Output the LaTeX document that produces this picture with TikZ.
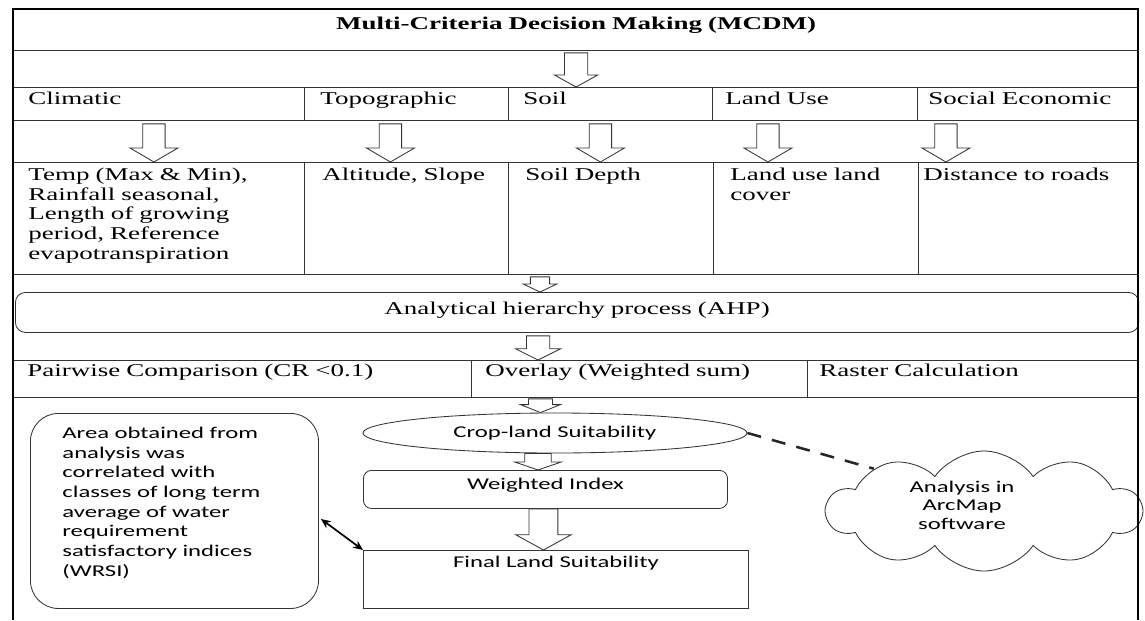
\documentclass[tikz,border=0pt]{standalone}
\usepackage{fontspec}
\setmainfont{Liberation Serif}[FakeStretch=1.5]
\newfontfamily\calibri{Carlito}[FakeStretch=1.5]
\usetikzlibrary{calc,shapes.geometric,shapes.symbols,arrows.meta}
\definecolor{linegray}{HTML}{333333}

% block arrow: start, end (only its y is used), half shaft, half head, head length
\newcommand{\hollowarrow}[5]{%
  \path[hollow] let \p1=(#1), \p2=(#2) in
    (\x1-#3,\y1) -- (\x1-#3,\y2+#5) -- (\x1-#4,\y2+#5) -- (\x1,\y2)
    -- (\x1+#4,\y2+#5) -- (\x1+#3,\y2+#5) -- (\x1+#3,\y1) -- cycle;
}

\begin{document}
\begin{tikzpicture}[x=0.025cm, y=-0.025cm,
            every node/.style={inner sep=0pt},
            serif/.style={font=\fontsize{12.8}{14}\selectfont},
            sans/.style={font=\calibri\fontsize{11.7}{14}\selectfont, execute at begin node={\setlength{\baselineskip}{14pt}}},
            cell/.style={serif, rectangle, draw=linegray, line width=0.6pt, anchor=north west, align=left, inner xsep=0.375cm},
            head cell/.style={cell, text height=0.425cm, text depth=0.4cm},
            detail cell/.style={cell, text height=0.45cm, text depth=2.35cm},
            method cell/.style={cell, text height=0.4cm, text depth=0.525cm},
            round box/.style={sans, rectangle, rounded corners=0.2cm, draw=linegray, line width=0.6pt, anchor=north west, align=center},
            hollow/.style={draw=linegray, line width=0.6pt, fill=white},
            frame/.style={line width=2pt}
    ]
        \useasboundingbox (0,0) rectangle (1145,620);

        % Title
        \node[cell, align=center, inner xsep=0pt, text width=28.125cm, text height=0.5cm, text depth=0.525cm, font=\bfseries\fontsize{12.8}{14}\selectfont] (title) at (13,9) {Multi-Criteria Decision Making (MCDM)};

        % Criteria
        \node[head cell, text width=6.525cm] (climatic) at (13,87) {Climatic};
        \node[head cell, inner xsep=0.4cm, text width=4.3cm] (topographic) at (304,87) {Topographic};
        \node[head cell, text width=4.35cm] (soil) at (508,87) {Soil};
        \node[head cell, inner xsep=0.325cm, text width=4.475cm] (landuse) at (712,87) {Land Use};
        \node[head cell, inner xsep=0.275cm, text width=4.975cm] (socio) at (917,87) {Social Economic};

        % Factors
        \node[detail cell, text width=6.525cm] (climdet) at (13,162) {Temp (Max \& Min),\\ Rainfall seasonal,\\ Length of growing\\ period, Reference\\ evapotranspiration};
        \node[detail cell, inner xsep=0.45cm, text width=4.2cm] (topodet) at (304,162) {Altitude, Slope};
        \node[detail cell, inner xsep=0.425cm, text width=4.275cm] (soildet) at (508,162) {Soil Depth};
        \node[detail cell, inner xsep=0.425cm, text width=4.275cm] (landdet) at (713,162) {Land use land\\ cover};
        \node[detail cell, inner xsep=0.125cm, text width=5.25cm] (sociodet) at (918,162) {Distance to roads};

        % AHP
        \node[cell, rounded corners=0.25cm, align=center, inner xsep=0pt, text width=28.075cm, text height=0.55cm, text depth=0.45cm] (ahp) at (15,292) {Analytical hierarchy process (AHP)};

        \node[method cell, inner xsep=0.35cm, text width=10.75cm] (pairwise) at (13,360) {Pairwise Comparison (CR <0.1)};
        \node[method cell, inner xsep=0.35cm, text width=7.7cm] (overlay) at (471,360) {Overlay (Weighted sum)};
        \node[method cell, inner xsep=0.3cm, text width=7.675cm] (raster) at (807,360) {Raster Calculation};

        % Suitability
        \node[sans, ellipse, draw=linegray, line width=0.6pt, minimum width=9.6cm, minimum height=1cm] (cropland) at (555,433) {Crop-land Suitability};
        \node[round box, text width=9.1cm, text height=0.475cm, text depth=0.475cm] (windex) at (363,470) {Weighted Index};
        \node[sans, rectangle, draw=linegray, line width=0.6pt, anchor=north west, align=center, text width=9.625cm, text height=0.425cm, text depth=1.025cm] (finalls) at (363,550) {Final Land Suitability};

        \node[round box, rounded corners=0.7cm, align=left, inner xsep=0.8cm, text width=5.6cm, text height=0.625cm, text depth=4.25cm] (wrsi) at (30,413) {Area obtained from\\ analysis was\\ correlated with\\ classes of long term\\ average of water\\ requirement\\ satisfactory indices\\ (WRSI)};

        % ArcMap
        \node[cloud, draw=linegray, line width=0.6pt, cloud puffs=10, cloud puff arc=110, cloud ignores aspect, minimum width=7.85cm, minimum height=3.0cm] (arcmap) at (984,511) {};
        \node[sans, align=center, font=\calibri\fontsize{11.7}{13.2}\selectfont, execute at begin node={\setlength{\baselineskip}{13.2pt}}] (arcmaptext) at (962,505) {Analysis in\\ ArcMap\\ software};

        % Arrows
        \hollowarrow{$(title.south)+(0,2)$}{soil.north}{0.29cm}{0.54cm}{0.3cm}
        \hollowarrow{$(climatic.south)+(-5,3)$}{climdet.north}{0.28cm}{0.6cm}{0.35cm}
        \hollowarrow{$(topographic.south)+(-16,3)$}{topodet.north}{0.28cm}{0.6cm}{0.35cm}
        \hollowarrow{$(soil.south)+(-10,3)$}{soildet.north}{0.28cm}{0.6cm}{0.35cm}
        \hollowarrow{$(landuse.south)+(-47,3)$}{landdet.north}{0.28cm}{0.6cm}{0.35cm}
        \hollowarrow{$(socio.south)+(-82,3)$}{sociodet.north}{0.28cm}{0.6cm}{0.35cm}
        \hollowarrow{$(soildet.south west)+(32,2)$}{ahp.north}{0.24cm}{0.42cm}{0.2cm}
        \hollowarrow{$(ahp.south)+(-39,3)$}{overlay.north}{0.29cm}{0.56cm}{0.28cm}
        \hollowarrow{$(overlay.south)+(-99,1)$}{cropland.north}{0.3cm}{0.5cm}{0.2cm}
        \hollowarrow{$(cropland.south)+(-17,0)$}{windex.north}{0.33cm}{0.58cm}{0.2cm}
        \hollowarrow{$(windex.south)+(-2,0)$}{finalls.north}{0.36cm}{0.69cm}{0.38cm}

        \draw[{Stealth[length=7pt,width=6pt]}-{Stealth[length=7pt,width=6pt]}, line width=1.2pt] ($(wrsi.east)+(2,8)$) -- (finalls.north west);
        \draw[black!85, line width=1.8pt, dash pattern=on 10pt off 8pt] (cropland.east) -- (arcmap.159);

        % Frame
        \draw[frame] (13,620) |- (1138,9) -- (1138,620);

    \end{tikzpicture}
\end{document}
